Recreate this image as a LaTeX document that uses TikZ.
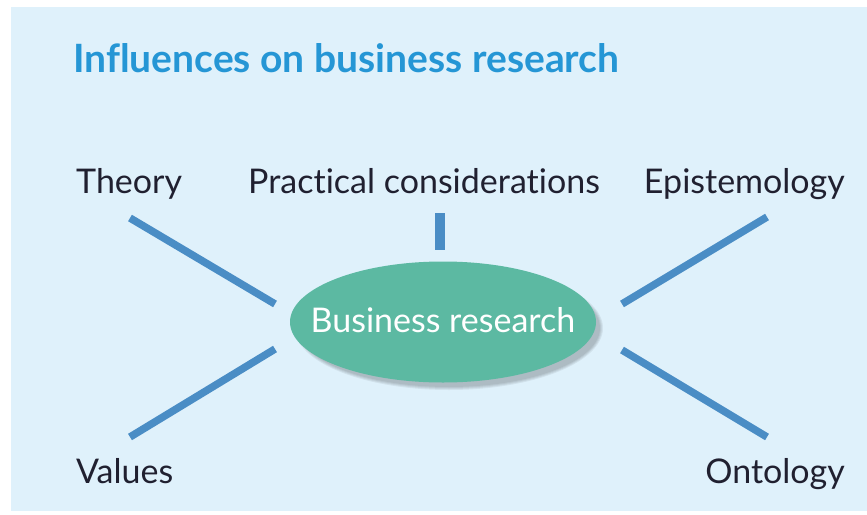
\documentclass[tikz,border=0pt]{standalone}
\usepackage{fontspec}
\setmainfont[Ligatures=NoCommon]{Lato}
\usetikzlibrary{shapes.geometric}
\definecolor{bgblue}{HTML}{DFF1FB}
\definecolor{titleblue}{HTML}{2596D5}
\definecolor{linkblue}{HTML}{4A8DC5}
\definecolor{teal}{HTML}{5CB9A2}
\definecolor{ink}{HTML}{202030}
\begin{document}
\begin{tikzpicture}[x=1pt,y=-1pt,
  lbl/.style={font=\fontsize{34}{38}\selectfont, text=ink, inner sep=0pt},
  link/.style={draw=linkblue, line width=7.5pt},
  shade/.style={fill=black, opacity=0.06},
  hub/.style={ellipse, fill=teal, minimum width=306pt, minimum height=121pt, inner ysep=0pt, inner xsep=-26pt,
    text=white, font=\fontsize{34}{38}\selectfont}]
\useasboundingbox (0,0) rectangle (867,514);
\fill[white] (0,0) rectangle (867,514);
\fill[bgblue] (11,7) rectangle (867,511);
\node[anchor=base west, inner sep=0pt, font=\fontsize{39}{42}\selectfont\bfseries, text=titleblue] (title) at (73,72) {Influences on business research};
\node[lbl, anchor=base west] (theory) at (76,193) {Theory};
\node[lbl, anchor=base west] (practical) at (248,193) {Practical considerations};
\node[lbl, anchor=base east] (episte) at (845,193) {Epistemology};
\node[lbl, anchor=base west] (values) at (76,483) {Values};
\node[lbl, anchor=base east] (onto) at (845,483) {Ontology};
\foreach \d in {2,4,6,8}{
  \fill[shade] (449,328) ellipse[x radius=150+\d/2, y radius=58+\d/2];
}
\node[hub] (br) at (443,322) {\raisebox{4pt}{Business research}};
\coordinate (t1) at (130,218); \coordinate (t2) at (275,304);
\coordinate (v1) at (130,437); \coordinate (v2) at (275,349);
\coordinate (e1) at (767,217); \coordinate (e2) at (622,304);
\coordinate (o1) at (767,437); \coordinate (o2) at (622,350);
\coordinate (p1) at (440,213); \coordinate (p2) at (440,250);
\draw[link] (t1) -- (t2);
\draw[link] (v1) -- (v2);
\draw[link] (e1) -- (e2);
\draw[link] (o1) -- (o2);
\draw[draw=linkblue, line width=10pt] (p1) -- (p2);
\end{tikzpicture}
\end{document}
